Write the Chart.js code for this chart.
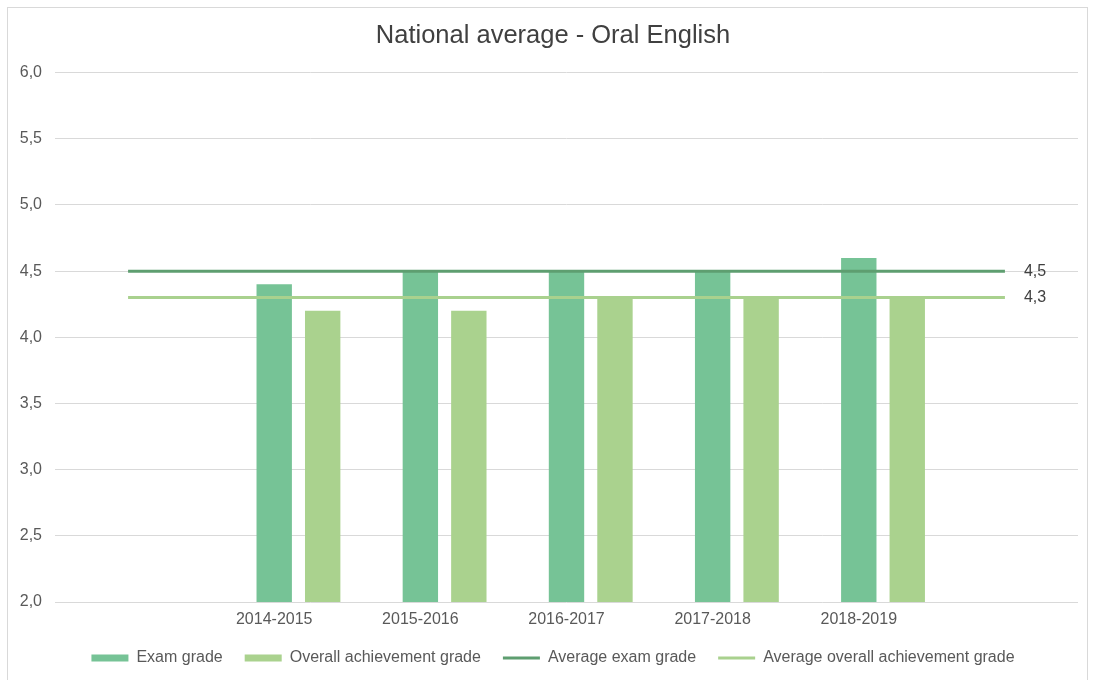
<!DOCTYPE html>
<html><head><meta charset="utf-8">
<script src="https://cdn.jsdelivr.net/npm/chart.js@4/dist/chart.umd.min.js"></script>
<style>
html,body{margin:0;padding:0;background:#fff;overflow:hidden;}
#wrap{position:relative;width:1093px;height:680px;}
#frame{position:absolute;left:7px;top:7px;width:1081px;height:690px;border:1px solid #d9d9d9;box-sizing:border-box;}
canvas{position:absolute;left:0;top:0;}
</style></head>
<body><div id="wrap"><div id="frame"></div><canvas id="c" width="1093" height="680"></canvas></div>
<script>
// Categories (empty first/last slots as in the original chart)
const categories = ['', '2014-2015', '2015-2016', '2016-2017', '2017-2018', '2018-2019', ''];
// Bar series
const examGrade = [null, 4.4, 4.5, 4.5, 4.5, 4.6, null];
const overallGrade = [null, 4.2, 4.2, 4.3, 4.3, 4.3, null];
// Empty bar series that occupies the first bar slot (as in the original)
const emptySlot = [null, null, null, null, null, null, null];
// Average lines
const avgExamGrade = [4.5, 4.5, 4.5, 4.5, 4.5, 4.5, 4.5];
const avgOverallGrade = [4.3, 4.3, 4.3, 4.3, 4.3, 4.3, 4.3];
// Axis settings
const yMin = 2.0, yMax = 6.0, yStep = 0.5;

const fmt = v => Number(v).toFixed(1).replace('.', ',');

const endLabels = {
  id: 'endLabels',
  afterDatasetsDraw(chart) {
    const ctx = chart.ctx;
    chart.data.datasets.forEach((ds, i) => {
      if (ds.type !== 'line') return;
      const meta = chart.getDatasetMeta(i);
      const pts = meta.data;
      const last = pts[pts.length - 1];
      const val = ds.data[ds.data.length - 1];
      ctx.save();
      ctx.font = '16px "Liberation Sans", Arial, sans-serif';
      ctx.fillStyle = '#404040';
      ctx.textAlign = 'left';
      ctx.textBaseline = 'middle';
      ctx.fillText(fmt(val), last.x + 19, last.y);
      ctx.restore();
    });
  }
};

// Let axis labels extend beyond their (narrow) layout boxes without being clipped
const unclipLabels = {
  id: 'unclipLabels',
  afterLayout(chart) {
    chart.scales.y.left = 0;
    chart.scales.x.bottom = chart.height;
  }
};

Chart.defaults.font.family = '"Liberation Sans", Arial, sans-serif';

new Chart(document.getElementById('c'), {
  type: 'bar',
  data: {
    labels: categories,
    datasets: [
      { label: '', data: emptySlot, backgroundColor: 'rgba(0,0,0,0)', borderWidth: 0, order: 1 },
      { label: 'Exam grade', data: examGrade, backgroundColor: '#76c396', borderWidth: 0, pointStyle: 'rect', order: 1 },
      { label: 'Overall achievement grade', data: overallGrade, backgroundColor: '#aad28e', borderWidth: 0, pointStyle: 'rect', order: 1 },
      { type: 'line', label: 'Average exam grade', data: avgExamGrade, borderColor: '#5e9e70', backgroundColor: '#5e9e70', borderWidth: 3, pointRadius: 0, pointStyle: 'line', fill: false, tension: 0, order: 0 },
      { type: 'line', label: 'Average overall achievement grade', data: avgOverallGrade, borderColor: '#a9d18e', backgroundColor: '#a9d18e', borderWidth: 3, pointRadius: 0, pointStyle: 'line', fill: false, tension: 0, order: 0 }
    ]
  },
  options: {
    responsive: false,
    animation: false,
    devicePixelRatio: 1,
    layout: { padding: { left: 28, right: 15, top: 0, bottom: 4 } },
    datasets: { bar: { categoryPercentage: 0.995, barPercentage: 0.73 } },
    scales: {
      x: {
        offset: true,
        grid: { display: false, drawTicks: false },
        border: { display: false },
        ticks: { color: '#595959', font: { size: 16 }, padding: 8, autoSkip: false, maxRotation: 0 },
        afterFit(scale) { scale.height = 26; }
      },
      y: {
        min: yMin, max: yMax,
        grid: { color: '#d9d9d9', drawTicks: false, lineWidth: 1 },
        border: { display: false },
        ticks: { stepSize: yStep, color: '#595959', font: { size: 16 }, padding: 13, callback: v => fmt(v) },
        afterFit(scale) { scale.width = 27; }
      }
    },
    plugins: {
      title: {
        display: true,
        text: 'National average - Oral English',
        color: '#404040',
        font: { size: 25.5, weight: 'normal' },
        padding: { top: 21, bottom: 21 }
      },
      legend: {
        position: 'bottom',
        labels: {
          usePointStyle: true,
          pointStyleWidth: 37,
          boxHeight: 7,
          color: '#595959',
          font: { size: 16 },
          padding: 22,
          filter: item => item.text !== '',
          sort: (a, b) => a.datasetIndex - b.datasetIndex
        }
      },
      tooltip: { enabled: false }
    }
  },
  plugins: [endLabels, unclipLabels]
});
</script>
</body></html>
